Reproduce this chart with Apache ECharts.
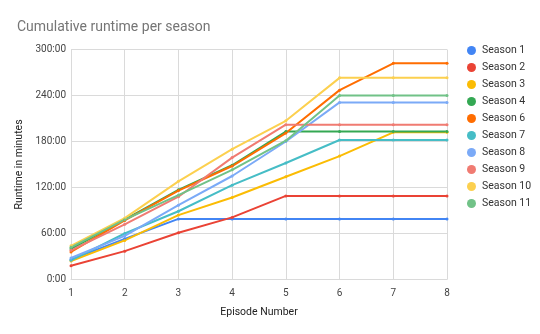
<!DOCTYPE html>
<html>
<head>
<meta charset="utf-8">
<script src="https://cdn.jsdelivr.net/npm/echarts@6/dist/echarts.min.js"></script>
<style>html,body{margin:0;padding:0;background:#fff}#c{width:540px;height:334px}</style>
</head>
<body>
<div id="c"></div>
<script>
const episodes = ['1','2','3','4','5','6','7','8'];
const yTicks = [0, 60, 120, 180, 240, 300];
const seasonNames = ['Season 1','Season 2','Season 3','Season 4','Season 6','Season 7','Season 8','Season 9','Season 10','Season 11'];
const season1 = [26, 53, 79, 79, 79, 79, 79, 79];
const season2 = [18, 37, 61, 81, 109, 109, 109, 109];
const season3 = [24, 51, 84, 107, 134, 161, 192, 192];
const season4 = [40, 78, 117, 149, 193, 193, 193, 193];
const season6 = [36, 77, 116, 148, 191, 247, 282, 282];
const season7 = [25, 60, 89, 123, 152, 182, 182, 182];
const season8 = [28, 57, 97, 135, 180, 231, 231, 231];
const season9 = [38, 72, 108, 159, 202, 202, 202, 202];
const season10 = [44, 80, 128, 170, 207, 263, 263, 263];
const season11 = [42, 78, 110, 143, 181, 240, 240, 240];
const seriesData = [season1, season2, season3, season4, season6, season7, season8, season9, season10, season11];
const colors = ['#4285f4','#ea4335','#fbbc04','#34a853','#ff6d01','#46bdc6','#7baaf7','#f07b72','#fcd04f','#71c287'];

const chart = echarts.init(document.getElementById('c'));
chart.setOption({
  animation: false,
  color: colors,
  textStyle: {fontFamily: 'Roboto, Arial, sans-serif'},
  title: {
    text: 'Cumulative runtime per season',
    left: 12, top: 15,
    textStyle: {fontSize: 14, fontWeight: 'normal', color: '#757575', fontFamily: 'Roboto, Arial, sans-serif'}
  },
  legend: {
    orient: 'vertical',
    left: 462, top: 40,
    itemWidth: 9, itemHeight: 9, itemGap: 6,
    icon: 'circle',
    textStyle: {fontSize: 10.5, color: '#333', padding: [0,0,0,1]},
    data: seasonNames
  },
  grid: {left: 71, right: 93, top: 49.5, bottom: 54.5, containLabel: false},
  xAxis: {
    type: 'category',
    data: episodes,
    boundaryGap: false,
    name: 'Episode Number',
    nameLocation: 'middle',
    nameGap: 27,
    nameTextStyle: {fontSize: 10.5, color: '#222'},
    axisLine: {show: true, lineStyle: {color: '#dadada'}},
    axisTick: {show: false},
    axisLabel: {fontSize: 10, color: '#444', margin: 9},
    splitLine: {show: true, lineStyle: {color: '#dadada'}}
  },
  yAxis: {
    type: 'value',
    min: yTicks[0], max: yTicks[yTicks.length - 1], interval: 60,
    name: 'Runtime in minutes',
    nameLocation: 'middle',
    nameGap: 40,
    nameTextStyle: {fontSize: 10.5, color: '#222'},
    axisLine: {show: false},
    axisTick: {show: false},
    axisLabel: {fontSize: 10, color: '#444', margin: 5, formatter: v => v + ':00'},
    splitLine: {show: true, lineStyle: {color: '#dadada'}}
  },
  series: seasonNames.map((n, i) => ({
    name: n,
    type: 'line',
    data: seriesData[i],
    symbol: 'circle',
    symbolSize: 3,
    showSymbol: true,
    lineStyle: {width: 2},
    emphasis: {disabled: true}
  }))
});
</script>
</body>
</html>
